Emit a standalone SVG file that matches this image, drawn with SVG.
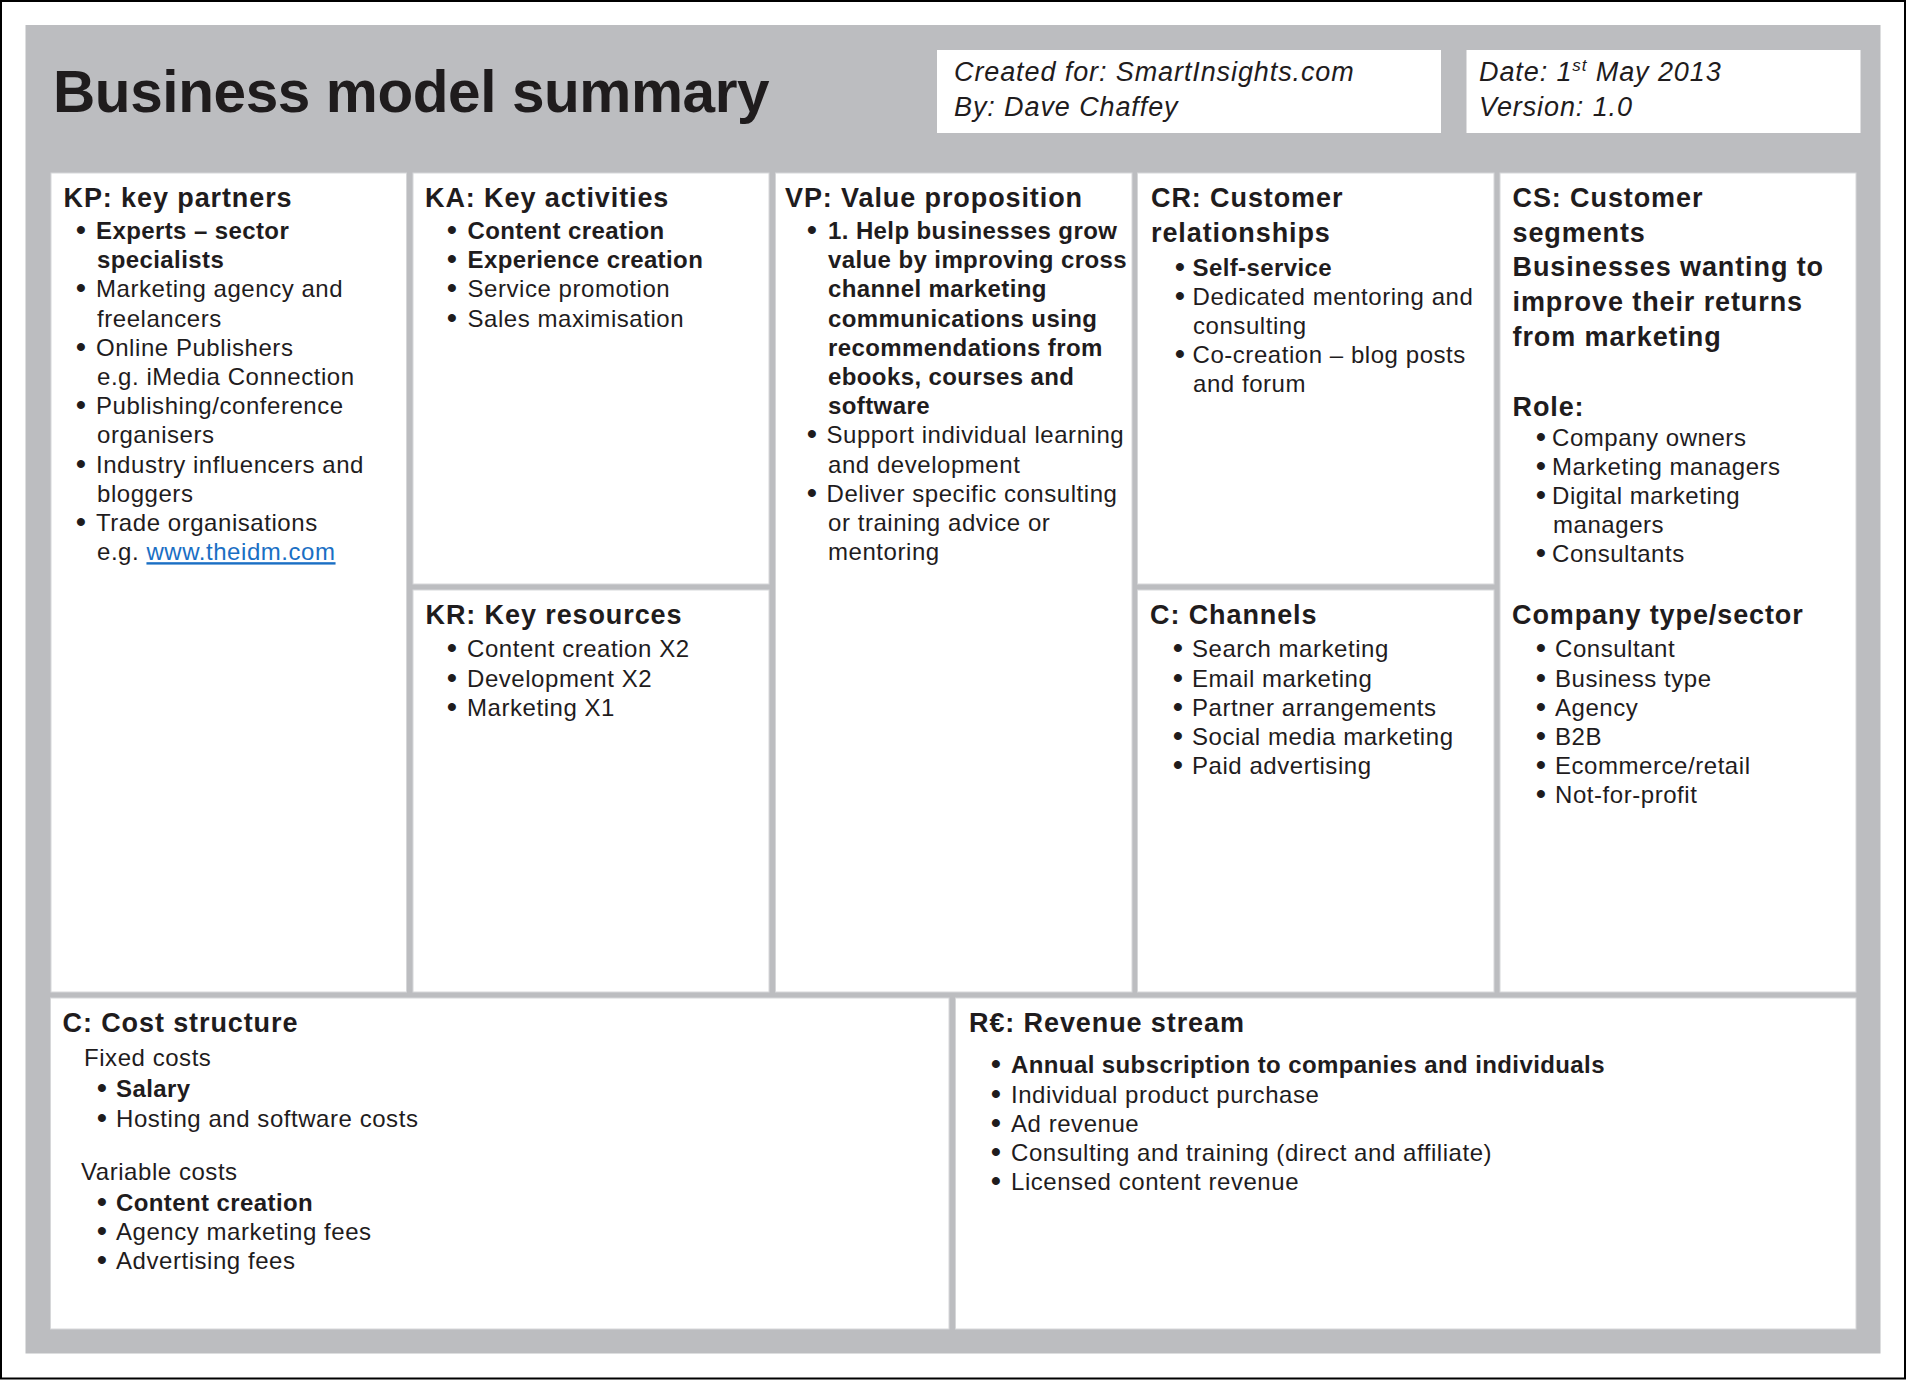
<svg xmlns="http://www.w3.org/2000/svg" width="1906" height="1380" viewBox="0 0 1906 1380">
<style>
text{font-family:"Liberation Sans",Arial,Helvetica,sans-serif;fill:#1f1c1d}
.title{font-size:58.5px;font-weight:bold;letter-spacing:-0.4px}
.it{font-size:27px;font-style:italic;letter-spacing:0.9px}
.h{font-size:27px;font-weight:bold;letter-spacing:0.9px}
.t{font-size:24px;letter-spacing:0.55px}
.b{font-size:24px;font-weight:bold;letter-spacing:0.4px}
.bu{font-size:28px;font-weight:bold}
.box{fill:#ffffff;stroke:#d6d7d9;stroke-width:1}
.hdr{fill:#ffffff}
.link{fill:#1a6fc4;text-decoration:underline}
</style>
<rect x="0" y="0" width="1906" height="1380" fill="#ffffff"/>
<rect x="1" y="1" width="1904" height="1377.5" fill="none" stroke="#000000" stroke-width="2"/>
<rect x="25.5" y="25" width="1855" height="1328.5" fill="#bcbdc0"/>

<g id="header">
<text class="title" x="53" y="112">Business model summary</text>
</g>
<g id="created-box">
<rect class="hdr" x="937" y="50" width="504" height="83"/>
<text class="it" x="954" y="81">Created for: SmartInsights.com</text>
<text class="it" x="954" y="115.5">By: Dave Chaffey</text>
</g>
<g id="date-box">
<rect class="hdr" x="1466.5" y="50" width="394" height="83"/>
<text class="it" x="1479" y="81">Date: 1<tspan font-size="17" dy="-10">st</tspan><tspan dy="10"> May 2013</tspan></text>
<text class="it" x="1479" y="115.5">Version: 1.0</text>
</g>

<g id="kp">
<rect class="box" x="51" y="173" width="355.5" height="819"/>
<text class="h" x="63.5" y="206.7">KP: key partners</text>
<text class="bu" x="76" y="239">•</text><text class="b" x="96" y="239">Experts – sector</text>
<text class="b" x="97" y="268.2">specialists</text>
<text class="bu" x="76" y="297.4">•</text><text class="t" x="96" y="297.4">Marketing agency and</text>
<text class="t" x="97" y="326.6">freelancers</text>
<text class="bu" x="76" y="355.8">•</text><text class="t" x="96" y="355.8">Online Publishers</text>
<text class="t" x="97" y="385">e.g. iMedia Connection</text>
<text class="bu" x="76" y="414.2">•</text><text class="t" x="96" y="414.2">Publishing/conference</text>
<text class="t" x="97" y="443.4">organisers</text>
<text class="bu" x="76" y="472.6">•</text><text class="t" x="96" y="472.6">Industry influencers and</text>
<text class="t" x="97" y="501.8">bloggers</text>
<text class="bu" x="76" y="531">•</text><text class="t" x="96" y="531">Trade organisations</text>
<text class="t" x="97" y="560.2">e.g. <tspan class="link">www.theidm.com</tspan></text>
</g>

<g id="ka">
<rect class="box" x="413" y="173" width="356" height="411"/>
<text class="h" x="425" y="206.7">KA: Key activities</text>
<text class="bu" x="447" y="239">•</text><text class="b" x="467.5" y="239">Content creation</text>
<text class="bu" x="447" y="268.2">•</text><text class="b" x="467.5" y="268.2">Experience creation</text>
<text class="bu" x="447" y="297.4">•</text><text class="t" x="467.5" y="297.4">Service promotion</text>
<text class="bu" x="447" y="326.6">•</text><text class="t" x="467.5" y="326.6">Sales maximisation</text>
</g>

<g id="kr">
<rect class="box" x="413" y="590" width="356" height="402"/>
<text class="h" x="425.5" y="624">KR: Key resources</text>
<text class="bu" x="447" y="657.3">•</text><text class="t" x="467" y="657.3">Content creation X2</text>
<text class="bu" x="447" y="686.5">•</text><text class="t" x="467" y="686.5">Development X2</text>
<text class="bu" x="447" y="715.7">•</text><text class="t" x="467" y="715.7">Marketing X1</text>
</g>

<g id="vp">
<rect class="box" x="775.5" y="173" width="356.5" height="819"/>
<text class="h" x="785" y="206.7">VP: Value proposition</text>
<text class="bu" x="807" y="239">•</text><text class="b" x="828" y="239">1. Help businesses grow</text>
<text class="b" x="828" y="268.2">value by improving cross</text>
<text class="b" x="828" y="297.4">channel marketing</text>
<text class="b" x="828" y="326.6">communications using</text>
<text class="b" x="828" y="355.8">recommendations from</text>
<text class="b" x="828" y="385">ebooks, courses and</text>
<text class="b" x="828" y="414.2">software</text>
<text class="bu" x="807" y="443.4">•</text><text class="t" x="826.5" y="443.4">Support individual learning</text>
<text class="t" x="828" y="472.6">and development</text>
<text class="bu" x="807" y="501.8">•</text><text class="t" x="826.5" y="501.8">Deliver specific consulting</text>
<text class="t" x="828" y="531">or training advice or</text>
<text class="t" x="828" y="560.2">mentoring</text>
</g>

<g id="cr">
<rect class="box" x="1137.5" y="173" width="356.5" height="411"/>
<text class="h" x="1151" y="206.7">CR: Customer</text>
<text class="h" x="1151" y="241.5">relationships</text>
<text class="bu" x="1175" y="275.5">•</text><text class="b" x="1192.5" y="275.5">Self-service</text>
<text class="bu" x="1175" y="304.7">•</text><text class="t" x="1192.5" y="304.7">Dedicated mentoring and</text>
<text class="t" x="1193" y="333.9">consulting</text>
<text class="bu" x="1175" y="363.1">•</text><text class="t" x="1192.5" y="363.1">Co-creation – blog posts</text>
<text class="t" x="1193" y="392.3">and forum</text>
</g>

<g id="ch">
<rect class="box" x="1137.5" y="590" width="356.5" height="402"/>
<text class="h" x="1150" y="624">C: Channels</text>
<text class="bu" x="1173" y="657.3">•</text><text class="t" x="1192" y="657.3">Search marketing</text>
<text class="bu" x="1173" y="686.5">•</text><text class="t" x="1192" y="686.5">Email marketing</text>
<text class="bu" x="1173" y="715.7">•</text><text class="t" x="1192" y="715.7">Partner arrangements</text>
<text class="bu" x="1173" y="744.9">•</text><text class="t" x="1192" y="744.9">Social media marketing</text>
<text class="bu" x="1173" y="774.1">•</text><text class="t" x="1192" y="774.1">Paid advertising</text>
</g>

<g id="cs">
<rect class="box" x="1500" y="173" width="356" height="819"/>
<text class="h" x="1512.5" y="206.7">CS: Customer</text>
<text class="h" x="1512.5" y="241.5">segments</text>
<text class="h" x="1512.5" y="276.3">Businesses wanting to</text>
<text class="h" x="1512.5" y="311.1">improve their returns</text>
<text class="h" x="1512.5" y="345.9">from marketing</text>
<text class="h" x="1512.5" y="415.5">Role:</text>
<text class="bu" x="1536" y="445.5">•</text><text class="t" x="1552" y="445.5">Company owners</text>
<text class="bu" x="1536" y="474.7">•</text><text class="t" x="1552" y="474.7">Marketing managers</text>
<text class="bu" x="1536" y="503.9">•</text><text class="t" x="1552" y="503.9">Digital marketing</text>
<text class="t" x="1553" y="533.1">managers</text>
<text class="bu" x="1536" y="562.3">•</text><text class="t" x="1552" y="562.3">Consultants</text>
<text class="h" x="1512" y="624">Company type/sector</text>
<text class="bu" x="1536" y="657.3">•</text><text class="t" x="1555" y="657.3">Consultant</text>
<text class="bu" x="1536" y="686.5">•</text><text class="t" x="1555" y="686.5">Business type</text>
<text class="bu" x="1536" y="715.7">•</text><text class="t" x="1555" y="715.7">Agency</text>
<text class="bu" x="1536" y="744.9">•</text><text class="t" x="1555" y="744.9">B2B</text>
<text class="bu" x="1536" y="774.1">•</text><text class="t" x="1555" y="774.1">Ecommerce/retail</text>
<text class="bu" x="1536" y="803.3">•</text><text class="t" x="1555" y="803.3">Not-for-profit</text>
</g>

<g id="cost">
<rect class="box" x="50.5" y="998" width="898.5" height="331"/>
<text class="h" x="62.5" y="1031.7">C: Cost structure</text>
<text class="t" x="84" y="1066">Fixed costs</text>
<text class="bu" x="97" y="1097.3">•</text><text class="b" x="116" y="1097.3">Salary</text>
<text class="bu" x="97" y="1126.5">•</text><text class="t" x="116" y="1126.5">Hosting and software costs</text>
<text class="t" x="81" y="1180">Variable costs</text>
<text class="bu" x="97" y="1210.7">•</text><text class="b" x="116" y="1210.7">Content creation</text>
<text class="bu" x="97" y="1239.9">•</text><text class="t" x="116" y="1239.9">Agency marketing fees</text>
<text class="bu" x="97" y="1269.1">•</text><text class="t" x="116" y="1269.1">Advertising fees</text>
</g>

<g id="rev">
<rect class="box" x="955.5" y="998" width="900.5" height="331"/>
<text class="h" x="969" y="1031.7">R€: Revenue stream</text>
<text class="bu" x="991" y="1073.3">•</text><text class="b" x="1011" y="1073.3">Annual subscription to companies and individuals</text>
<text class="bu" x="991" y="1102.5">•</text><text class="t" x="1011" y="1102.5">Individual product purchase</text>
<text class="bu" x="991" y="1131.7">•</text><text class="t" x="1011" y="1131.7">Ad revenue</text>
<text class="bu" x="991" y="1160.9">•</text><text class="t" x="1011" y="1160.9">Consulting and training (direct and affiliate)</text>
<text class="bu" x="991" y="1190.1">•</text><text class="t" x="1011" y="1190.1">Licensed content revenue</text>
</g>
</svg>
